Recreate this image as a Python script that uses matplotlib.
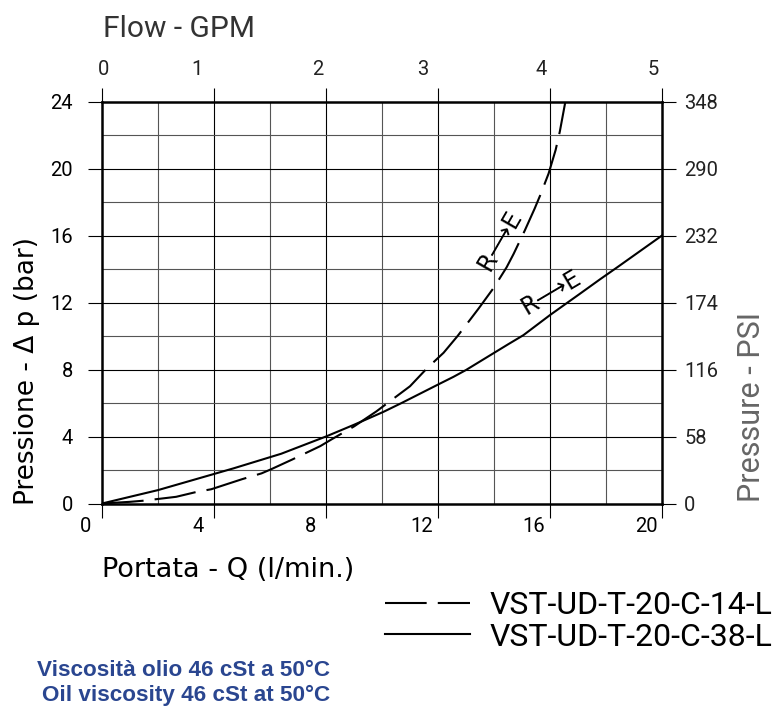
import numpy as np
import matplotlib
matplotlib.use("Agg")
import matplotlib.pyplot as plt
from matplotlib.transforms import ScaledTranslation, blended_transform_factory

plt.rcParams['font.family'] = ['DejaVu Sans']
plt.rcParams['lines.scale_dashes'] = False

# Flow (l/min) vs pressure drop (bar)
q_14 = [0, 1.0, 1.5, 2.65, 3.4, 3.9, 5.0, 5.7, 6.06, 6.8, 7.8, 8.2, 9.0, 9.8, 10.2,
        11.0, 11.6, 12.2, 12.7, 13.15, 13.45, 14.0, 14.45, 14.7, 15.1, 15.45,
        15.65, 15.95, 16.2, 16.35, 16.55]
dp_14 = [0, 0.1, 0.17, 0.4, 0.7, 0.85, 1.45, 1.8, 2.06, 2.63, 3.43, 3.83, 4.6, 5.5, 6.0,
         7.0, 8.06, 9.0, 10.0, 10.98, 11.64, 12.9, 14.1, 14.9, 16.3, 17.6,
         18.4, 19.7, 21.1, 22.2, 24.0]

q_38 = [0, 2.0, 4.7, 6.4, 8.0, 9.0, 10.05, 10.7, 12.0, 12.55, 13.0, 14.5, 15.05,
        16.0, 17.05, 17.8, 18.4, 20.0]
dp_38 = [0, 0.8, 2.1, 2.97, 4.0, 4.7, 5.47, 6.0, 7.1, 7.56, 7.97, 9.5, 10.05,
         11.25, 12.5, 13.4, 14.1, 16.0]

series_labels = ['VST-UD-T-20-C-14-L', 'VST-UD-T-20-C-38-L']

x_ticks = [0, 4, 8, 12, 16, 20]
y_ticks = [0, 4, 8, 12, 16, 20, 24]
psi_ticks = [0, 58, 116, 174, 232, 290, 348]
gpm_labels = ['0', '1', '2', '3', '4', '5']
gpm_label_pos = [0.05, 3.4, 7.7, 11.45, 15.7, 19.7]  # where the GPM labels sit (l/min)

W, H = 784, 706


def fx(px):
    return px / W


def fy(py):
    return 1 - py / H


thin = ['Roboto', 'DejaVu Sans']
tickfont = dict(family=thin, fontsize=14.5)

fig = plt.figure(figsize=(W / 100, H / 100), dpi=100)
ax = fig.add_axes([fx(102), fy(503.5), 560 / W, 402 / H])
ax.set_xlim(0, 20)
ax.set_ylim(0, 24)

# grid
for v in np.arange(2, 20, 2):
    ax.axvline(v, color='black' if v % 4 == 0 else '#555555', lw=0.8, zorder=1)
for v in np.arange(2, 24, 2):
    ax.axhline(v, color='black' if v % 4 == 0 else '#555555', lw=0.8, zorder=1)

l1, = ax.plot(q_14, dp_14, color='black', lw=1.5, dashes=(30, 8), zorder=3)
l2, = ax.plot(q_38, dp_38, color='black', lw=1.5, zorder=3)

ax.text(14.21, 15.71, 'R⟶E', rotation=60, rotation_mode='anchor',
        ha='center', va='center', fontsize=17, family=['DejaVu Sans'], zorder=4)
ax.text(16.04, 12.61, 'R⟶E', rotation=30.6, rotation_mode='anchor',
        ha='center', va='center', fontsize=17, family=['DejaVu Sans'], zorder=4)

for s in ax.spines.values():
    s.set_linewidth(1.8)
    s.set_zorder(5)

ax.set_xticks(x_ticks)
ax.set_yticks(y_ticks)
ax.tick_params(axis='both', direction='out', length=10, width=0.8, color='black')
ax.tick_params(axis='x', top=True, labeltop=False, pad=0)
ax.tick_params(axis='y', pad=11)
ax.set_xticklabels([str(v) for v in x_ticks], **tickfont)
ax.set_yticklabels([str(v) for v in y_ticks], **tickfont)
for lab in ax.get_xticklabels():
    lab.set_transform(lab.get_transform() + ScaledTranslation(-0.16, 0, fig.dpi_scale_trans))

# right PSI axis
ax2 = ax.twinx()
ax2.set_ylim(0, 348)
ax2.set_yticks(psi_ticks)
ax2.set_yticklabels([str(v) for v in psi_ticks], color='#222222', **tickfont)
ax2.tick_params(axis='y', direction='out', length=10, width=0.8, pad=6)
for s in ax2.spines.values():
    s.set_visible(False)

# top GPM labels
tr = blended_transform_factory(ax.transData, ax.transAxes)
for pos, lab in zip(gpm_label_pos, gpm_labels):
    ax.text(pos, 1, lab, transform=tr + ScaledTranslation(0, 0.32, fig.dpi_scale_trans),
            ha='center', va='center', color='#222222', **tickfont)

# axis titles
fig.text(fx(103), fy(37), 'Flow - GPM', fontsize=21.5, color='#333333', family=thin,
         ha='left', va='baseline')
fig.text(fx(102), fy(577), 'Portata - Q (l/min.)', fontsize=19.5,
         ha='left', va='baseline')
fig.text(fx(27), fy(505), 'Pressione - Δ p (bar)', fontsize=19, rotation=90,
         ha='center', va='bottom')
fig.text(fx(752), fy(502), 'Pressure - PSI', fontsize=22, rotation=90, family=thin,
         color='#666666', ha='center', va='bottom')

fig.legend([l1, l2], series_labels, loc='upper left',
           bbox_to_anchor=(fx(385), fy(591)), frameon=False, borderpad=0,
           borderaxespad=0, handlelength=2.66, handletextpad=0.62,
           labelspacing=0.08, prop=dict(family=thin, size=23))

blue = '#2a4690'
fig.text(fx(330), fy(676), 'Viscosità olio 46 cSt a 50°C', ha='right', va='baseline',
         family=['Liberation Sans', 'DejaVu Sans'], weight='bold', fontsize=16.2, color=blue)
fig.text(fx(330), fy(701), 'Oil viscosity 46 cSt at 50°C', ha='right', va='baseline',
         family=['Liberation Sans', 'DejaVu Sans'], weight='bold', fontsize=16.2, color=blue)

fig.savefig('out.png', dpi=100)
